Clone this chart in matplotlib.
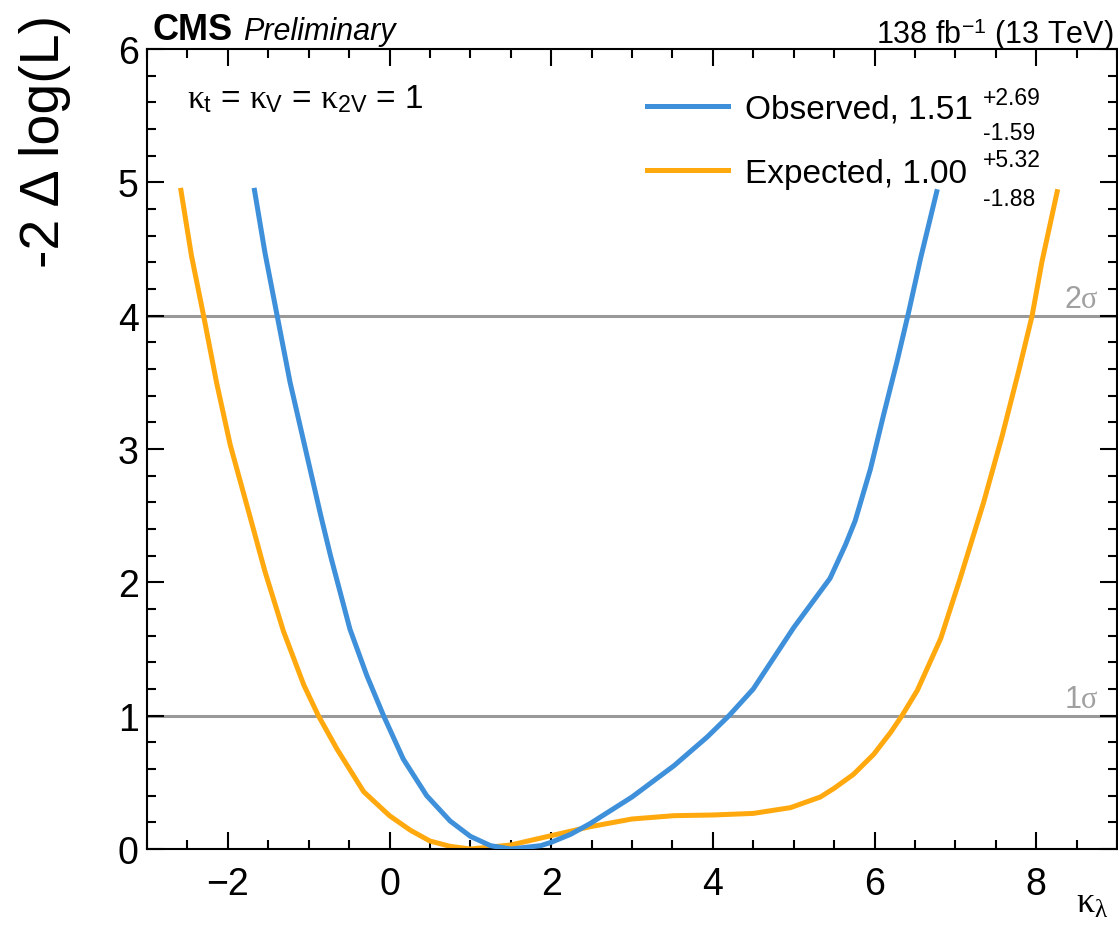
import matplotlib
matplotlib.use("Agg")
import matplotlib.pyplot as plt
from matplotlib.ticker import MultipleLocator

plt.rcParams['font.family'] = ['Liberation Sans', 'DejaVu Sans']
plt.rcParams['mathtext.fontset'] = 'custom'
plt.rcParams['mathtext.rm'] = 'Liberation Sans'
plt.rcParams['mathtext.it'] = 'Liberation Serif'
plt.rcParams['mathtext.bf'] = 'Liberation Sans:bold'
plt.rcParams['mathtext.sf'] = 'Liberation Sans'

# Likelihood scan in kappa_lambda (other couplings fixed to SM)
obs_x = [-1.67, -1.54, -1.39, -1.23, -1.04, -0.85, -0.73, -0.49, -0.28, -0.07,
         0.17, 0.46, 0.75, 1.00, 1.25, 1.50, 1.87, 2.00, 2.24, 2.48,
         3.00, 3.52, 3.93, 4.20, 4.50, 5.00, 5.45, 5.64, 5.76, 5.95,
         6.11, 6.28, 6.42, 6.57, 6.77]
obs_y = [4.94, 4.47, 4.00, 3.50, 3.00, 2.50, 2.20, 1.65, 1.30, 0.995,
         0.675, 0.40, 0.21, 0.095, 0.025, 0.0, 0.025, 0.05, 0.11, 0.19,
         0.39, 0.625, 0.84, 1.00, 1.20, 1.66, 2.03, 2.28, 2.46, 2.85,
         3.25, 3.66, 4.02, 4.43, 4.93]

exp_x = [-2.58, -2.45, -2.30, -2.14, -1.97, -1.72, -1.54, -1.31, -1.06, -0.88,
         -0.65, -0.32, 0.00, 0.26, 0.50, 0.75, 1.00, 1.50, 2.00, 2.48,
         3.00, 3.52, 4.00, 4.50, 4.96, 5.33, 5.50, 5.74, 5.99, 6.20,
         6.34, 6.53, 6.82, 7.06, 7.35, 7.58, 7.79, 7.95, 8.07, 8.26]
exp_y = [4.94, 4.45, 4.00, 3.50, 3.03, 2.48, 2.08, 1.63, 1.23, 1.00,
         0.75, 0.43, 0.25, 0.14, 0.06, 0.02, 0.0, 0.03, 0.10, 0.167,
         0.225, 0.25, 0.255, 0.267, 0.31, 0.39, 0.455, 0.56, 0.71, 0.875,
         1.00, 1.19, 1.58, 2.03, 2.60, 3.10, 3.60, 4.00, 4.40, 4.93]

obs_best, obs_up, obs_dn = "1.51", "+2.69", "-1.59"
exp_best, exp_up, exp_dn = "1.00", "+5.32", "-1.88"

sigma_levels = [1.0, 4.0]
sigma_labels = [r"1$\sigma$", r"2$\sigma$"]

x_range = (-3, 9)
y_range = (0, 6)

c_obs = "#3f90da"
c_exp = "#ffa90e"
c_grey = "#999999"

W, H = 1118, 929
fig = plt.figure(figsize=(W / 100, H / 100), dpi=100)
ax = fig.add_axes([147 / W, (H - 850) / H, 970 / W, 800 / H])

# reference lines for 1 and 2 sigma
for lvl, lab in zip(sigma_levels, sigma_labels):
    ax.axhline(lvl, color=c_grey, lw=2.2, zorder=1)
    ax.annotate(lab, xy=(8.78, lvl), xytext=(0, 1), textcoords="offset points",
                ha="right", va="bottom", fontsize=22, color="#a0a0a0")

l_obs, = ax.plot(obs_x, obs_y, color=c_obs, lw=3.6, zorder=3,
                 label=f"Observed, {obs_best}")
l_exp, = ax.plot(exp_x, exp_y, color=c_exp, lw=3.6, zorder=2,
                 label=f"Expected, {exp_best}")

ax.set_xlim(*x_range)
ax.set_ylim(*y_range)

ax.xaxis.set_major_locator(MultipleLocator(2))
ax.xaxis.set_minor_locator(MultipleLocator(0.5))
ax.yaxis.set_major_locator(MultipleLocator(1))
ax.yaxis.set_minor_locator(MultipleLocator(0.2))
ax.tick_params(which="both", direction="in", top=True, right=True, width=1.5,
               labelsize=27)
ax.tick_params(which="major", length=12.5)
ax.tick_params(which="minor", length=6.5)
ax.tick_params(axis="x", pad=12)
ax.tick_params(axis="y", pad=6)
for sp in ax.spines.values():
    sp.set_linewidth(1.5)

leg = ax.legend(handles=[l_obs, l_exp], loc="upper left",
                bbox_to_anchor=(0.515, 0.944), frameon=False, fontsize=24,
                handlelength=2.45, handletextpad=0.5, labelspacing=1.0,
                borderpad=0, borderaxespad=0)

# asymmetric uncertainties next to the legend entries
for up, dn, yu, yd in [(obs_up, obs_dn, 0.931, 0.887), (exp_up, exp_dn, 0.854, 0.805)]:
    ax.text(0.862, yu, up, transform=ax.transAxes, fontsize=16.5, va="baseline")
    ax.text(0.862, yd, dn, transform=ax.transAxes, fontsize=16.5, va="baseline")

ax.text(0.041, 0.9275,
        r"$\kappa_\mathrm{t}$ = $\kappa_\mathrm{V}$ = $\kappa_\mathrm{2V}$ = 1",
        transform=ax.transAxes, fontsize=24, va="baseline")

# labels and header
fig.text(45 / W, 1 - 15 / H, "-2 \u0394 log(L)", rotation=90, ha="center",
         va="top", fontsize=40)
fig.text(1076 / W, 1 - 913 / H, r"$\kappa_\lambda$", fontsize=26,
         va="baseline", ha="left")
fig.text(153 / W, 1 - 40 / H, "CMS", fontsize=26, fontweight="bold",
         va="baseline")
fig.text(243 / W, 1 - 40 / H, "Preliminary", fontsize=22, style="italic",
         va="baseline")
fig.text(1113 / W, 1 - 44 / H, r"138 fb$^{-1}$ (13 TeV)", fontsize=22,
         va="baseline", ha="right")

fig.savefig("out.png", dpi=100)
